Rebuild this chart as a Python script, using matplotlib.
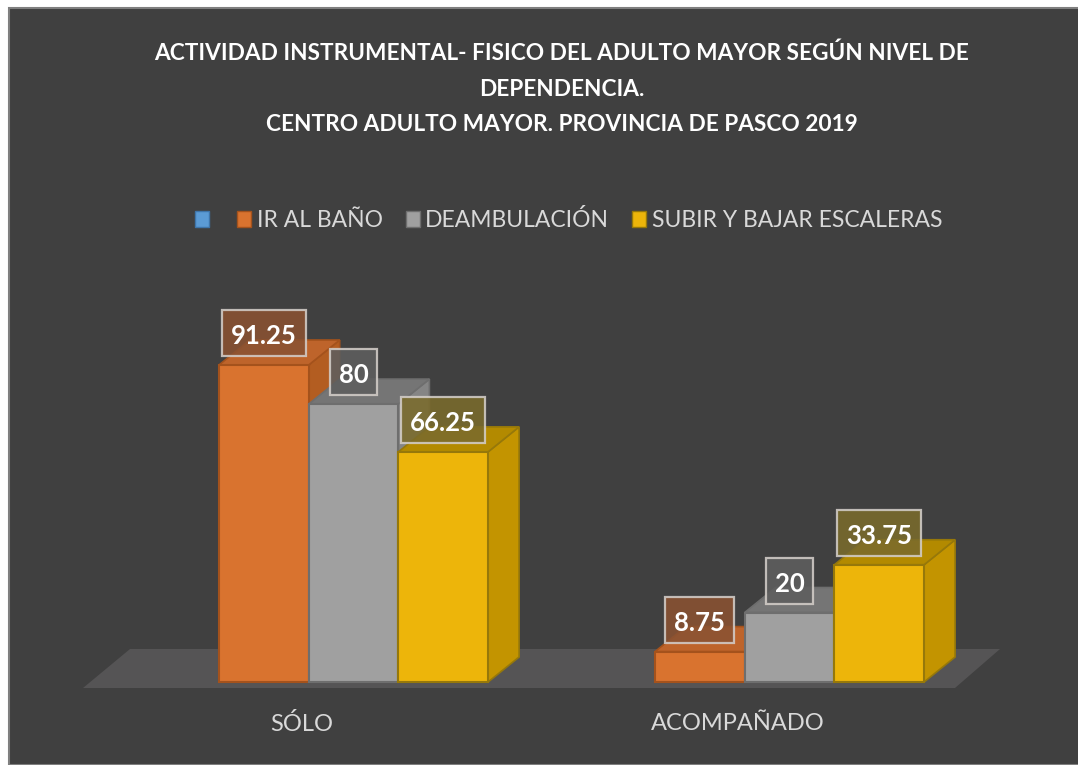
"""
Actividad instrumental - físico del adulto mayor según nivel de dependencia
Gráfico de barras con apariencia 3D (estilo Excel)
"""
import matplotlib
matplotlib.use("Agg")
import matplotlib.pyplot as plt
from matplotlib.patches import Rectangle, Polygon, Patch

# datos
categorias = ["SÓLO", "ACOMPAÑADO"]
series = ["IR AL BAÑO", "DEAMBULACIÓN", "SUBIR Y BAJAR ESCALERAS"]
ir_al_bano = [91.25, 8.75]
deambulacion = [80, 20]
subir_bajar = [66.25, 33.75]
valores = [ir_al_bano, deambulacion, subir_bajar]

titulo = ("ACTIVIDAD INSTRUMENTAL- FISICO DEL ADULTO MAYOR SEGÚN NIVEL DE\n"
          "DEPENDENCIA.\n"
          "CENTRO ADULTO MAYOR. PROVINCIA DE PASCO 2019")

# colores: frente, lado, tapa, borde, etiqueta
colores = [
    ("#D9732F", "#B35D21", "#BE642B", "#A4521C", "#8A5232"),
    ("#A0A0A0", "#858585", "#757575", "#6E6E6E", "#5E5E5E"),
    ("#EDB50A", "#C39400", "#B38A00", "#96780A", "#7A6B2C"),
]
BG = "#404040"
TXT = "#D9D9D9"

W, H = 1078, 765
K = 3.474           # px por unidad de porcentaje
BASE_PX = 682       # y del piso (px)
DX, DY = 31, 25 / K  # profundidad 3D
BAR_W = 89.7
GRUPO_X = [219, 655]

fuente = ["Lato", "DejaVu Sans"]


def py(px):
    """pixel vertical -> unidades de valor"""
    return (BASE_PX - px) / K


fig = plt.figure(figsize=(W / 100, H / 100), dpi=100, facecolor="white")
fig.patches.append(Rectangle((9 / W, 0), 1, (H - 8) / H, transform=fig.transFigure,
                             facecolor=BG, edgecolor="#7F7F7F", linewidth=1.5,
                             zorder=-5))

ax = fig.add_axes([0, 0, 1, 1])
ax.set_xlim(0, W)
ax.set_ylim(py(H), py(0))
ax.axis("off")
ax.patch.set_alpha(0)

# piso
ax.add_patch(Polygon([(83, py(688)), (955, py(688)), (1000, py(649)), (130, py(649))],
                     closed=True, facecolor="#555455", edgecolor="none", zorder=1))


def caja(x0, h, c, z):
    frente, lado, tapa, borde, _ = c
    ax.add_patch(Polygon([(x0 + BAR_W, 0), (x0 + BAR_W + DX, DY), (x0 + BAR_W + DX, h + DY),
                          (x0 + BAR_W, h)], facecolor=lado, edgecolor=borde, lw=1.2, zorder=z))
    ax.add_patch(Polygon([(x0, h), (x0 + DX, h + DY), (x0 + BAR_W + DX, h + DY),
                          (x0 + BAR_W, h)], facecolor=tapa, edgecolor=borde, lw=1.2, zorder=z))
    ax.add_patch(Rectangle((x0, 0), BAR_W, h, facecolor=frente, edgecolor=borde,
                           lw=1.5, zorder=z))


etiquetas = []
for g, gx in enumerate(GRUPO_X):
    for s in range(len(series)):
        x0 = gx + s * BAR_W
        v = valores[s][g]
        caja(x0, v, colores[s], 2 + s + 3 * g)
        t = ax.text(x0 + BAR_W / 2, v + 31 / K, f"{v:g}", ha="center",
                    va="center_baseline", fontsize=18.5, fontweight="bold",
                    color="white", family=fuente, zorder=21)
        etiquetas.append((t, colores[s][4]))
    ax.text(gx + 1.5 * BAR_W - 52, py(724), categorias[g], ha="center", va="center",
            fontsize=17, color=TXT, family=fuente)

# cajas de las etiquetas (ancho según el texto, alto fijo)
fig.canvas.draw()
inv = ax.transData.inverted()
for t, fc in etiquetas:
    bb = t.get_window_extent()
    cx, cy = t.get_position()
    (x_a, _), (x_b, _) = inv.transform([(bb.x0 - 9, 0), (bb.x1 + 9, 0)])
    alto = 46 / K
    ax.add_patch(Rectangle((x_a, cy - alto / 2 + 1 / K), x_b - x_a, alto, facecolor=fc,
                           edgecolor="#D3CDC8", linewidth=1.6, alpha=0.88, zorder=20))

fig.text(562 / W, 1 - 89 / H, titulo, ha="center", va="center", fontsize=16.3,
         fontweight="bold", color="white", family=fuente, linespacing=1.85)

handles = [Patch(facecolor="#5B9BD5", edgecolor="#3E75AA")]
handles += [Patch(facecolor=c[0], edgecolor=c[3]) for c in colores]
leg = fig.legend(handles, [""] + series, ncol=4, frameon=False,
                 loc="center left", bbox_to_anchor=(195 / W, 1 - 220 / H),
                 prop={"family": fuente, "size": 16.5},
                 handlelength=0.6, handleheight=0.7, handletextpad=0.25,
                 columnspacing=1.0, borderpad=0, borderaxespad=0)
for t in leg.get_texts():
    t.set_color(TXT)

fig.savefig("out.png", dpi=100, facecolor="white")
